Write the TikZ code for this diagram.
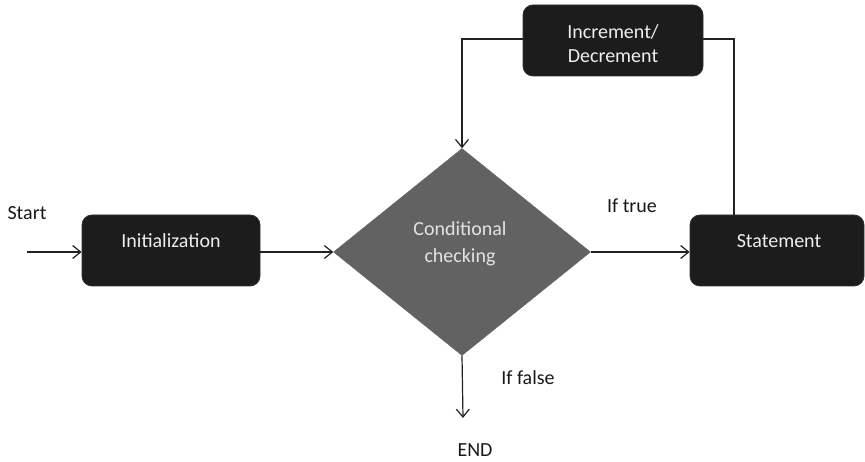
\documentclass[tikz,border=0pt]{standalone}
\usepackage{fontspec}
\setmainfont{Carlito}
\usetikzlibrary{shapes.geometric,arrows.meta}
\definecolor{boxfill}{HTML}{1C1C1C}
\definecolor{diafill}{HTML}{626262}
\definecolor{lighttext}{HTML}{EEEEEE}
\definecolor{linecol}{HTML}{222222}
\begin{document}
\begin{tikzpicture}[x=1pt,y=-1pt,
  font=\fontsize{20}{24}\selectfont,
  blackbox/.style={draw=boxfill!80!gray, fill=boxfill, rounded corners=10pt,
    minimum width=178pt, minimum height=71pt, inner sep=0pt, line width=0.8pt},
  boxtext/.style={text=lighttext, align=center, inner sep=0pt},
  decision/.style={diamond, draw=diafill, fill=diafill, minimum width=257pt,
    minimum height=207pt, inner sep=0pt},
  plain/.style={text=black!90, inner sep=0pt},
  flow/.style={draw=linecol, line width=1.2pt},
  tip/.style={-{Straight Barb[length=8pt,width=13pt,line width=1.2pt]}}
]
\useasboundingbox[fill=white] (0,0) rectangle (865,462);

% boxes and the decision diamond
\node[blackbox] (init) at (171,250.5) {};
\node[boxtext] (initT) at (171,241) {Initialization};

\node[decision] (dia) at (462,252) {};
\node[boxtext, text=lighttext!90!gray] (diaT) at (460,244) {Conditional\\[3pt]checking};

\node[blackbox, minimum width=174pt] (stmt) at (777,250.5) {};
\node[boxtext] (stmtT) at (779,241) {Statement};

\node[blackbox, minimum width=180pt] (incr) at (613,40.5) {};
\node[boxtext] (incrT) at (613,44) {Increment/\\[0pt]Decrement};

% outer labels
\node[plain] (startL) at (27,213) {Start};
\node[plain] (trueL) at (632,206) {If true};
\node[plain] (falseL) at (528,378) {If false};
\node[plain] (endL) at (475,450) {END};

% free ends of connectors
\coordinate (startpt) at (27,252);
\coordinate (loopR) at (734,39);
\coordinate (loopL) at (462,39);
\coordinate (endpt) at (463,418);

% connectors
\draw[flow,tip] (startpt) -- (startpt -| init.west);
\draw[flow,tip] (init.east |- dia.west) -- (dia.west);
\draw[flow,tip] (dia.east) -- (dia.east -| stmt.west);
\draw[flow] (stmt.north -| loopR) -- (loopR) -- (loopR -| incr.east);
\draw[flow,tip] (loopL -| incr.west) -- (loopL) -- (dia.north);
\draw[flow,tip] (dia.south) -- (endpt);
\end{tikzpicture}
\end{document}
